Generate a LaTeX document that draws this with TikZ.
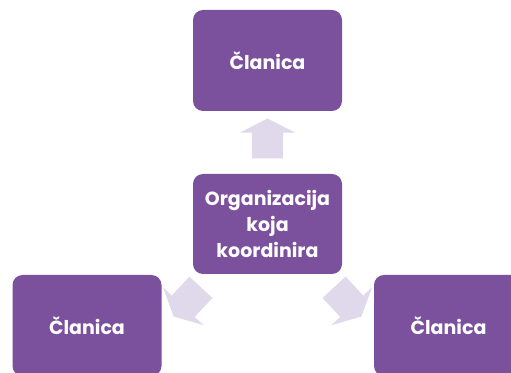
\documentclass[tikz,border=0pt]{standalone}
\usepackage{fontspec}
\setmainfont{Poppins}
\usepackage{tikz}
\usetikzlibrary{shapes.arrows,calc,positioning}
\definecolor{boxfill}{HTML}{7B519D}
\definecolor{arrowfill}{HTML}{E0D9EB}
\tikzset{
  box/.style={rectangle, rounded corners=10pt, fill=boxfill, text=white,
    minimum width=149pt, minimum height=101pt, inner sep=0pt,
    align=center, font=\fontsize{19}{26}\selectfont\bfseries},
  blockarrow/.style={single arrow, fill=arrowfill, inner xsep=0pt, inner ysep=15.5pt,
    single arrow head extend=12pt,
    minimum height=40pt, single arrow tip angle=126},
}
\begin{document}
\begin{tikzpicture}[x=1pt,y=1pt]
\useasboundingbox (0,0) rectangle (511,372);
\clip (0,0) rectangle (511,372);

% boxes
\node[box] (top) at (267.5,311.5) {Članica};
\node[box, minimum height=100pt] (org) at (267.5,148) {Organizacija\\koja\\koordinira};
\node[box] (left) at (87,46.5) {Članica};
\node[box] (right) at (448.5,46.5) {Članica};

% arrows from the centre
\node[blockarrow, rotate=90] (up) at ($(org.north)!0.5!(top.south)$) {};
\node[blockarrow, rotate=227] (downleft) at (190,73) {};
\node[blockarrow, rotate=313] (downright) at (345,73) {};
\end{tikzpicture}
\end{document}
